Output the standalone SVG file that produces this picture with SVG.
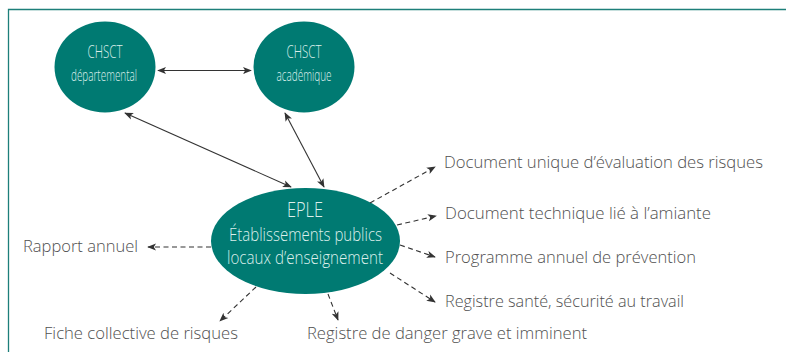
<svg xmlns="http://www.w3.org/2000/svg" width="786" height="352" viewBox="0 0 786 352">
<defs>
<style>
.node{fill:#007a72}
.nt{font-family:"Open Sans","Liberation Sans",sans-serif;font-weight:300;fill:#dcefec;text-anchor:middle}
.lbl{font-family:"Open Sans","Liberation Sans",sans-serif;font-weight:300;font-size:16.5px;fill:#505050}
.solid{stroke:#333;stroke-width:1.1;fill:none}
.dash{stroke:#333;stroke-width:1.1;fill:none;stroke-dasharray:5 3.5}
</style>
<marker id="ah" viewBox="0 0 10 10" refX="9" refY="5" markerWidth="9" markerHeight="9" markerUnits="userSpaceOnUse" orient="auto-start-reverse">
<path d="M0,1 L10,5 L0,9 L2.5,5 Z" fill="#333"/>
</marker>
</defs>
<path d="M8.5,352 V9.5 H786" fill="none" stroke="#1d7f7a" stroke-width="1.3"/>
<g id="chsct-dep">
<ellipse class="node" cx="105" cy="67" rx="50.5" ry="45.5"/>
<text class="nt" x="105" y="58" font-size="18.5" textLength="35" lengthAdjust="spacingAndGlyphs">CHSCT</text>
<text class="nt" x="104" y="81" font-size="17" textLength="66" lengthAdjust="spacingAndGlyphs">départemental</text>
</g>
<g id="chsct-aca">
<ellipse class="node" cx="304" cy="67" rx="50.5" ry="45.5"/>
<text class="nt" x="304" y="58" font-size="18.5" textLength="35" lengthAdjust="spacingAndGlyphs">CHSCT</text>
<text class="nt" x="304" y="81" font-size="17" textLength="55" lengthAdjust="spacingAndGlyphs">académique</text>
</g>
<g id="eple">
<ellipse class="node" cx="305.5" cy="241" rx="94.5" ry="53"/>
<text class="nt" x="305" y="217" font-size="19.5" textLength="36" lengthAdjust="spacingAndGlyphs">EPLE</text>
<text class="nt" x="305.5" y="241" font-size="18" textLength="153" lengthAdjust="spacingAndGlyphs">Établissements publics</text>
<text class="nt" x="305" y="264" font-size="18" textLength="156" lengthAdjust="spacingAndGlyphs">locaux d’enseignement</text>
</g>
<g id="connectors">
<line class="solid" x1="158" y1="70.5" x2="251" y2="70.5" marker-start="url(#ah)" marker-end="url(#ah)"/>
<line class="solid" x1="125" y1="113" x2="291" y2="187" marker-start="url(#ah)" marker-end="url(#ah)"/>
<line class="solid" x1="285" y1="113" x2="324" y2="187" marker-start="url(#ah)" marker-end="url(#ah)"/>
<line class="dash" x1="211" y1="247" x2="148" y2="247" marker-end="url(#ah)"/>
<line class="dash" x1="256" y1="287" x2="220" y2="321" marker-end="url(#ah)"/>
<line class="dash" x1="328" y1="294" x2="338" y2="320" marker-end="url(#ah)"/>
<line class="dash" x1="370" y1="203" x2="435" y2="167" marker-end="url(#ah)"/>
<line class="dash" x1="397" y1="225" x2="436" y2="216" marker-end="url(#ah)"/>
<line class="dash" x1="400" y1="245" x2="435" y2="257" marker-end="url(#ah)"/>
<line class="dash" x1="390" y1="273" x2="435" y2="302" marker-end="url(#ah)"/>
</g>
<g id="labels">
<text class="lbl" x="444" y="168" textLength="319" lengthAdjust="spacingAndGlyphs">Document unique d’évaluation des risques</text>
<text class="lbl" x="445" y="219" textLength="266" lengthAdjust="spacingAndGlyphs">Document technique lié à l’amiante</text>
<text class="lbl" x="445" y="263" textLength="251" lengthAdjust="spacingAndGlyphs">Programme annuel de prévention</text>
<text class="lbl" x="445" y="307" textLength="239" lengthAdjust="spacingAndGlyphs">Registre santé, sécurité au travail</text>
<text class="lbl" x="307" y="339" textLength="280" lengthAdjust="spacingAndGlyphs">Registre de danger grave et imminent</text>
<text class="lbl" x="44" y="339" textLength="194" lengthAdjust="spacingAndGlyphs">Fiche collective de risques</text>
<text class="lbl" x="23" y="252" textLength="115" lengthAdjust="spacingAndGlyphs">Rapport annuel</text>
</g>
</svg>
